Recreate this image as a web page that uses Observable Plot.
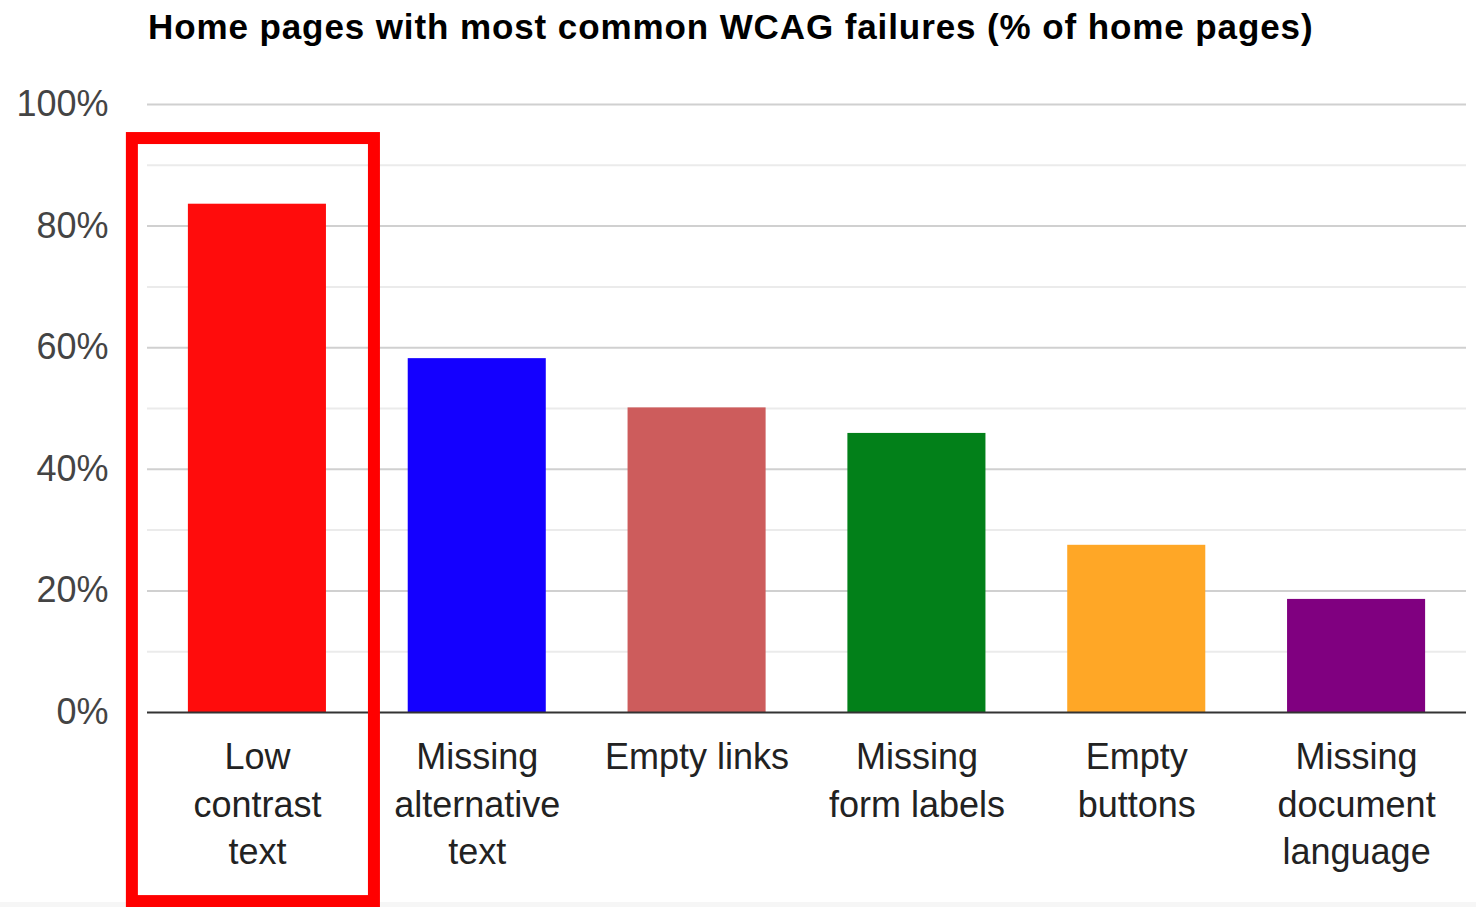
<!DOCTYPE html>
<html>
<head>
<meta charset="utf-8">
<script src="https://cdn.jsdelivr.net/npm/d3@7"></script>
<script src="https://cdn.jsdelivr.net/npm/@observablehq/plot@0.6"></script>
<style>
  html, body { margin: 0; padding: 0; background: #fff; width: 1476px; height: 907px; overflow: hidden; }
  #title { position: absolute; left: 148px; top: 9px; font: bold 35px "Liberation Sans", Arial, sans-serif; letter-spacing: 0.9px; line-height: 35px; color: #000; white-space: nowrap; }
  #strip { position: absolute; left: 0; top: 902px; width: 1476px; height: 5px; background: #f6f6f6; }
  #chart { position: absolute; left: 0; top: 60px; }
</style>
</head>
<body>
<div id="title">Home pages with most common WCAG failures (% of home pages)</div>
<div id="strip"></div>
<div id="chart"></div>
<script>
const categories = ["Low contrast text", "Missing alternative text", "Empty links", "Missing form labels", "Empty buttons", "Missing document language"];
const tickLabels = ["Low\ncontrast\ntext", "Missing\nalternative\ntext", "Empty links", "Missing\nform labels", "Empty\nbuttons", "Missing\ndocument\nlanguage"];
const values = [83.6, 58.2, 50.1, 45.9, 27.5, 18.6];
const colors = ["#ff0c0c", "#1400ff", "#cd5c5c", "#028019", "#ffa726", "#800080"];
const majorTicks = [0, 20, 40, 60, 80, 100];
const minorTicks = [10, 30, 50, 70, 90];
const highlight = [{category: "Low contrast text", from: -31.1, to: 94.4}];

const data = categories.map((c, i) => ({category: c, value: values[i], color: colors[i]}));
const labelOf = new Map(categories.map((c, i) => [c, tickLabels[i]]));

const chart = Plot.plot({
  width: 1476,
  height: 847,
  marginLeft: 147,
  marginRight: 10,
  marginTop: 44,
  marginBottom: 195,
  style: {fontFamily: "'Liberation Sans', Arial, sans-serif", background: "transparent"},
  x: {domain: categories, paddingInner: 0.372, paddingOuter: 0.186, round: false, label: null},
  y: {domain: [0, 100], label: null},
  marks: [
    Plot.ruleY(minorTicks, {stroke: "#ebebeb", strokeWidth: 2}),
    Plot.ruleY(majorTicks.filter(d => d > 0), {stroke: "#d0d0d0", strokeWidth: 2}),
    Plot.barY(data, {x: "category", y: "value", fill: "color"}),
    Plot.ruleY([0], {stroke: "#333", strokeWidth: 2}),
    Plot.axisY(majorTicks, {tickSize: 0, tickPadding: 39, fontSize: 36, fill: "#444", tickFormat: d => d + "%", label: null}),
    Plot.axisX({tickSize: 0, tickPadding: 23, fontSize: 36, fill: "#222", lineHeight: 1.32, tickFormat: d => labelOf.get(d), label: null}),
    Plot.barY(highlight, {x: "category", y1: "from", y2: "to", fill: "none", stroke: "#ff0000", strokeWidth: 12, insetLeft: -56, insetRight: -48, clip: false})
  ]
});
document.getElementById("chart").appendChild(chart);
</script>
</body>
</html>
